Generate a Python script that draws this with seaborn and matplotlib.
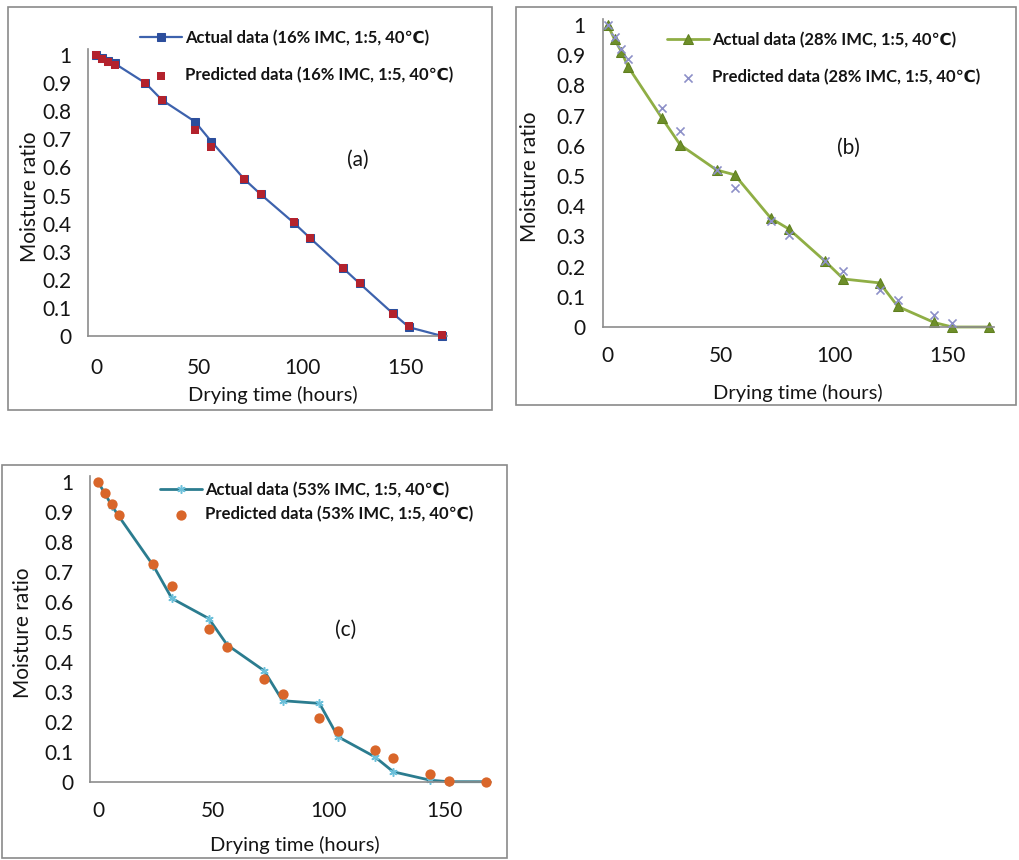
import numpy as np
import matplotlib.pyplot as plt
import seaborn as sns
from matplotlib.patches import Rectangle
from matplotlib.ticker import FuncFormatter

sns.set_style("white")
plt.rcParams['font.family'] = ['Lato', 'DejaVu Sans']

# drying times (hours)
hours = [0, 3, 6, 9, 24, 32, 48, 56, 72, 80, 96, 104, 120, 128, 144, 152, 168]

# (a) 16% IMC
a_actual = [1.0, 0.99, 0.98, 0.97, 0.90, 0.84, 0.763, 0.692, 0.558, 0.504, 0.403, 0.348,
            0.241, 0.187, 0.081, 0.031, 0.0]
a_pred = [1.0, 0.985, 0.975, 0.965, 0.90, 0.84, 0.733, 0.674, 0.558, 0.504, 0.405, 0.35,
          0.243, 0.189, 0.08, 0.035, 0.003]

# (b) 28% IMC
b_actual = [1.0, 0.953, 0.912, 0.862, 0.691, 0.603, 0.52, 0.504, 0.36, 0.324, 0.217, 0.159,
            0.146, 0.068, 0.015, 0.0, 0.0]
b_pred_hours = hours[:-1]
b_pred = [1.0, 0.96, 0.92, 0.886, 0.724, 0.65, 0.52, 0.46, 0.35, 0.305, 0.22, 0.187,
          0.123, 0.09, 0.04, 0.013]

# (c) 53% IMC
c_actual = [1.0, 0.96, 0.92, 0.885, 0.72, 0.611, 0.544, 0.456, 0.37, 0.27, 0.261, 0.15,
            0.083, 0.033, 0.005, 0.0, 0.0]
c_pred = [1.0, 0.964, 0.926, 0.889, 0.726, 0.652, 0.508, 0.45, 0.344, 0.292, 0.211, 0.169,
          0.106, 0.078, 0.026, 0.003, 0.0]

xticks = [0, 50, 100, 150]
yticks = np.round(np.arange(0, 1.01, 0.1), 1)

W, H = 1020, 860
fig = plt.figure(figsize=(W / 100, H / 100), dpi=100)
AXIS_GREY = "#8c8c8c"
TXT = "#141414"


def fx(px):
    return px / W


def fy(py):
    return 1 - py / H


def make_axes(px0, px_per_hr, py0, py_per_unit, xlim, ylim):
    left = px0 + px_per_hr * xlim[0]
    right = px0 + px_per_hr * xlim[1]
    top = py0 - py_per_unit * ylim[1]
    bottom = py0 - py_per_unit * ylim[0]
    ax = fig.add_axes([fx(left), fy(bottom), (right - left) / W, (bottom - top) / H])
    ax.set_xlim(*xlim)
    ax.set_ylim(*ylim)
    return ax


def style(ax, xpad, ypad, ylabel_xy, xlabel_xy, frame, tag, tag_xy):
    ax.set_facecolor("white")
    for s in ["top", "right"]:
        ax.spines[s].set_visible(False)
    ax.spines["bottom"].set_position(("data", 0))
    ax.spines["left"].set_bounds(0, ax.get_ylim()[1])
    for s in ["bottom", "left"]:
        ax.spines[s].set_color(AXIS_GREY)
        ax.spines[s].set_linewidth(1.2)
    ax.set_xticks(xticks)
    ax.set_yticks(yticks)
    ax.yaxis.set_major_formatter(FuncFormatter(lambda v, p: f"{v:g}"))
    ax.tick_params(axis="x", direction="out", length=4, color=AXIS_GREY, pad=xpad,
                   labelsize=15, labelcolor=TXT)
    ax.tick_params(axis="y", direction="out", length=3, color=AXIS_GREY, pad=ypad,
                   labelsize=15, labelcolor=TXT)
    ax.set_xlabel("Drying time (hours)", fontsize=14.5, color=TXT)
    ax.set_ylabel("Moisture ratio", fontsize=15, color=TXT)
    ax.xaxis.set_label_coords(fx(xlabel_xy[0]), fy(xlabel_xy[1]), transform=fig.transFigure)
    ax.yaxis.set_label_coords(fx(ylabel_xy[0]), fy(ylabel_xy[1]), transform=fig.transFigure)
    ax.xaxis.label.set_va("center")
    ax.yaxis.label.set_va("center")
    fig.text(fx(tag_xy[0]), fy(tag_xy[1]), tag, fontsize=15, ha="center", va="center",
             color=TXT)
    x0, y0, x1, y1 = frame
    fig.add_artist(Rectangle((fx(x0), fy(y1)), (x1 - x0) / W, (y1 - y0) / H,
                             transform=fig.transFigure, fill=False,
                             edgecolor="#8a8a8a", linewidth=1.2))


def legend(ax, anchor_xy, spacing):
    leg = ax.legend(loc="upper left", bbox_to_anchor=(fx(anchor_xy[0]), fy(anchor_xy[1])),
                    bbox_transform=fig.transFigure, frameon=False,
                    prop={"weight": "bold", "size": 12}, handlelength=2.5,
                    handletextpad=0.2, labelspacing=spacing, borderpad=0,
                    borderaxespad=0)
    for t in leg.get_texts():
        t.set_color(TXT)
    for line in ax.lines + list(ax.collections):
        line.set_clip_on(False)


# ---------- (a) ----------
ax_a = make_axes(96, 2.06, 336, 281, (-4, 170.5), (-0.12, 1.02))
sns.lineplot(x=hours, y=a_actual, ax=ax_a, color="#3d62ad", marker="s", markersize=6,
             markeredgecolor="#2c4e9c", markerfacecolor="#2c4e9c", linewidth=1.6,
             sort=False, label="Actual data (16% IMC, 1:5, 40\u2103)")
sns.scatterplot(x=hours, y=a_pred, ax=ax_a, color="#b3222d", marker="s", s=26,
                edgecolor="#b3222d", linewidth=0, zorder=3,
                label="Predicted data (16% IMC, 1:5, 40\u2103)")
style(ax_a, xpad=12, ypad=9, ylabel_xy=(30, 197), xlabel_xy=(273, 395),
      frame=(8, 7, 492, 410), tag="(a)", tag_xy=(358, 160))
legend(ax_a, (140, 30), 1.25)

# ---------- (b) ----------
ax_b = make_axes(607.7, 2.267, 327, 302, (-2, 170.5), (-0.12, 1.02))
sns.lineplot(x=hours, y=b_actual, ax=ax_b, color="#8fae45", marker="^", markersize=6.5,
             markeredgecolor="#5f7f1f", markerfacecolor="#6e8f2a", linewidth=2.0,
             sort=False, label="Actual data (28% IMC, 1:5, 40\u2103)")
sns.scatterplot(x=b_pred_hours, y=b_pred, ax=ax_b, color="#8d90c8", marker="x", s=34,
                linewidth=1.2, zorder=3,
                label="Predicted data (28% IMC, 1:5, 40\u2103)")
style(ax_b, xpad=10, ypad=10, ylabel_xy=(530, 177), xlabel_xy=(798, 393),
      frame=(516, 7, 1016, 405), tag="(b)", tag_xy=(848, 148))
legend(ax_b, (667, 32), 1.25)

# ---------- (c) ----------
ax_c = make_axes(98, 2.307, 781.7, 300, (-3.5, 170.5), (-0.12, 1.02))
sns.lineplot(x=hours, y=c_actual, ax=ax_c, color="#2b7c8f", marker=(6, 2, 0),
             markersize=6, markeredgecolor="#6cc0da", markeredgewidth=1.1, linewidth=2,
             sort=False, label="Actual data (53% IMC, 1:5, 40\u2103)")
sns.scatterplot(x=hours, y=c_pred, ax=ax_c, color="#d9662a", marker="o", s=55,
                edgecolor="#d9662a", linewidth=0, zorder=3,
                label="Predicted data (53% IMC, 1:5, 40\u2103)")
style(ax_c, xpad=10, ypad=9, ylabel_xy=(23, 633), xlabel_xy=(295, 845),
      frame=(2, 465, 507, 858), tag="(c)", tag_xy=(346, 630))
legend(ax_c, (160, 482), 0.45)

fig.savefig("out.png", dpi=100, facecolor="white")
